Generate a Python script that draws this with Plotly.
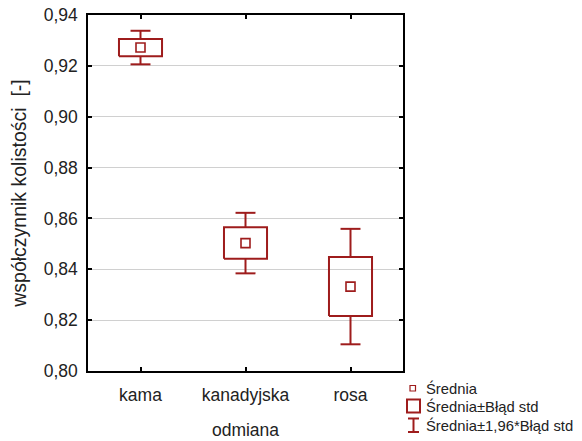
import plotly.graph_objects as go

categories = ["kama", "kanadyjska", "rosa"]
means = [0.9272, 0.8503, 0.8332]
se = [0.0034, 0.0062, 0.0116]
ci = [0.0066, 0.0119, 0.0227]
y_ticks = [0.80, 0.82, 0.84, 0.86, 0.88, 0.90, 0.92, 0.94]
legend_labels = ["Średnia", "Średnia±Błąd std", "Średnia±1,96*Błąd std"]

RED = "#9E1C1C"
FONT = "Liberation Sans, Arial, sans-serif"
OFF = 8  # default page body margin
W, H = 582 - OFF, 441 - OFF
L, R, T, B = 88 - OFF, 403 - OFF, 15 - OFF, 371 - OFF

box_half = 0.205
cap_half = 0.095

fig = go.Figure()

# boxes (mean ± SE)
bx, by = [], []
for i, (m, s) in enumerate(zip(means, se)):
    bx += [i - box_half, i + box_half, i + box_half, i - box_half, i - box_half, None]
    by += [m - s, m - s, m + s, m + s, m - s, None]
fig.add_trace(go.Scatter(x=bx, y=by, mode="lines", line=dict(color=RED, width=2),
                         showlegend=False, hoverinfo="skip"))

# whiskers (mean ± 1.96 SE)
wx, wy = [], []
for i, (m, s, c) in enumerate(zip(means, se, ci)):
    wx += [i, i, None, i, i, None]
    wy += [m + s, m + c, None, m - s, m - c, None]
    wx += [i - cap_half, i + cap_half, None, i - cap_half, i + cap_half, None]
    wy += [m + c, m + c, None, m - c, m - c, None]
fig.add_trace(go.Scatter(x=wx, y=wy, mode="lines", line=dict(color=RED, width=2),
                         showlegend=False, hoverinfo="skip"))

# means
fig.add_trace(go.Scatter(x=list(range(len(categories))), y=means, mode="markers",
                         marker=dict(symbol="square-open", size=9, color=RED,
                                     line=dict(width=1.6, color=RED)),
                         showlegend=False))

# screen pixel -> paper coordinates
def px(xp):
    return (xp - OFF - L) / (R - L)

def py(yp):
    return (B - (yp - OFF)) / (B - T)

shapes = []
# legend: small square
shapes.append(dict(type="rect", xref="paper", yref="paper",
                   x0=px(410), x1=px(415.5), y0=py(391), y1=py(385.5),
                   line=dict(color=RED, width=1.2)))
# legend: box
shapes.append(dict(type="rect", xref="paper", yref="paper",
                   x0=px(407), x1=px(420), y0=py(412.5), y1=py(399.5),
                   line=dict(color=RED, width=2)))
# legend: whisker
shapes.append(dict(type="line", xref="paper", yref="paper",
                   x0=px(413.5), x1=px(413.5), y0=py(432), y1=py(418.5),
                   line=dict(color=RED, width=2)))
shapes.append(dict(type="line", xref="paper", yref="paper",
                   x0=px(408), x1=px(419), y0=py(418.5), y1=py(418.5),
                   line=dict(color=RED, width=2)))
shapes.append(dict(type="line", xref="paper", yref="paper",
                   x0=px(408), x1=px(419), y0=py(432), y1=py(432),
                   line=dict(color=RED, width=2)))

annotations = []
for lab, yy in zip(legend_labels, [388, 406, 425]):
    annotations.append(dict(text=lab, xref="paper", yref="paper", x=px(424), y=py(yy),
                            xanchor="left", yanchor="middle", showarrow=False,
                            font=dict(family=FONT, size=14.8, color="#222")))

fig.update_layout(
    width=W, height=H,
    margin=dict(l=L, r=W - R, t=T, b=H - B, pad=0),
    paper_bgcolor="white", plot_bgcolor="white",
    separators=",.",
    font=dict(family=FONT, size=17, color="#222"),
    shapes=shapes, annotations=annotations,
    showlegend=False,
)
fig.update_xaxes(range=[-0.5, 2.5], tickvals=list(range(len(categories))), ticktext=categories,
                 showgrid=False, zeroline=False, showline=True, linecolor="black", linewidth=1.5,
                 mirror="ticks", ticks="inside", ticklen=4, tickcolor="black", tickwidth=1.5,
                 tickfont=dict(size=17.5), automargin=False, ticklabelstandoff=7,
                 ticklabeloverflow="allow",
                 title=dict(text="odmiana", font=dict(size=17.5), standoff=20))
fig.update_yaxes(range=[0.80, 0.94], tickvals=y_ticks, tickformat=".2f",
                 showgrid=True, gridcolor="#d0d0d0", gridwidth=1, zeroline=False,
                 showline=True, linecolor="black", linewidth=1.5,
                 mirror="ticks", ticks="inside", ticklen=4, tickcolor="black", tickwidth=1.5,
                 tickfont=dict(size=17.5), automargin=False, ticklabelstandoff=5,
                 ticklabeloverflow="allow",
                 title=dict(text="współczynnik kolistości  [-]", font=dict(size=19.5), standoff=14))

fig.write_html("out.html")
